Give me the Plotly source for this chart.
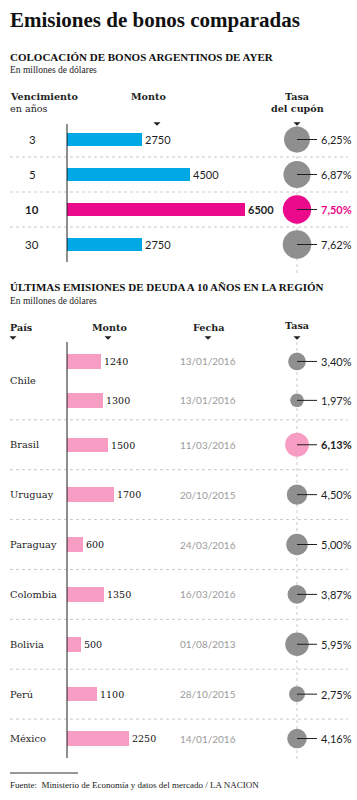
import plotly.graph_objects as go

W, H = 357, 800

# ---------------- DATA ----------------
title_text = "Emisiones de bonos comparadas"
sec1_title = "COLOCACIÓN DE BONOS ARGENTINOS DE AYER"
sec2_title = "ÚLTIMAS EMISIONES DE DEUDA A 10 AÑOS EN LA REGIÓN"
subtitle = "En millones de dólares"
source_text = "Fuente:  Ministerio de Economía y datos del mercado / LA NACION"

vencimientos = ["3", "5", "10", "30"]
montos_arg = [2750, 4500, 6500, 2750]
tasas_arg = [6.25, 6.87, 7.50, 7.62]
destacado_arg = "10"

paises = ["Chile", "Chile", "Brasil", "Uruguay", "Paraguay", "Colombia", "Bolivia", "Perú", "México"]
montos_reg = [1240, 1300, 1500, 1700, 600, 1350, 500, 1100, 2250]
fechas_reg = ["13/01/2016", "13/01/2016", "11/03/2016", "20/10/2015", "24/03/2016",
              "16/03/2016", "01/08/2013", "28/10/2015", "14/01/2016"]
tasas_reg = [3.40, 1.97, 6.13, 4.50, 5.00, 3.87, 5.95, 2.75, 4.16]
destacado_reg = "Brasil"

# ---------------- STYLE / LAYOUT CONSTANTS ----------------
BLUE = "#00a9e6"
MAGENTA = "#ec0a8c"
LPINK = "#f79cc2"
GRAY = "#8f8f8f"
DARK = "#1e1e1e"
DATEGRAY = "#9b9b9b"
SEP = "#c9c9c9"

SERIF_T = "Liberation Serif"
SLAB = "DejaVu Serif"
SANS = "Lato"

PX_PER_UNIT = 0.02736       # bar scale (px per million USD)
AXIS_X = 67                 # px position of the bar baseline
TASA_X = 297                # px column of rate bubbles
LABEL_X = 319               # px start of rate labels
SUB_ROW = 0.78              # height of a sub-row (multi-bond country)
LAST_ROW = 0.78             # last row is shorter


def fx(p):
    return p / W


def fy(p):
    return 1 - p / H


# section 1 row positions
pos_arg = list(range(len(vencimientos)))

# section 2 row positions (grouped by country)
pos_reg, blocks = [], []
cur, i, n = 0.0, 0, len(paises)
while i < n:
    j = i
    while j < n and paises[j] == paises[i]:
        j += 1
    cnt = j - i
    h = SUB_ROW * cnt if cnt > 1 else (LAST_ROW if j == n else 1.0)
    for k in range(cnt):
        pos_reg.append(cur + h * (k + 0.5) / cnt)
    blocks.append((paises[i], cur, cur + h))
    cur += h
    i = j
total_reg = cur

xrange_bars = [-AXIS_X / PX_PER_UNIT, (W - AXIS_X) / PX_PER_UNIT]

fig = go.Figure()

# ---------- Section 1 bars ----------
col1 = [MAGENTA if v == destacado_arg else BLUE for v in vencimientos]
txt1 = [f"<b>{m}</b>" if v == destacado_arg else f"{m}" for v, m in zip(vencimientos, montos_arg)]
fig.add_trace(go.Bar(
    x=montos_arg, y=pos_arg, orientation="h", width=0.38,
    marker=dict(color=col1, line_width=0),
    text=txt1, textposition="outside", constraintext="none", cliponaxis=False,
    textfont=dict(family=SANS, size=11, color=DARK),
    xaxis="x", yaxis="y", hoverinfo="skip"))

# ---------- Section 1 bubbles ----------
fig.add_trace(go.Scatter(
    x=[TASA_X] * len(tasas_arg), y=pos_arg, mode="markers",
    marker=dict(size=tasas_arg, sizemode="area", sizeref=2 / 10.35 ** 2, opacity=1,
                color=[MAGENTA if v == destacado_arg else GRAY for v in vencimientos],
                line_width=0),
    xaxis="x3", yaxis="y", cliponaxis=False, hoverinfo="skip"))

# ---------- Section 2 bars ----------
txt2 = [f"{m}" for m in montos_reg]
fig.add_trace(go.Bar(
    x=montos_reg, y=pos_reg, orientation="h", width=0.29,
    marker=dict(color=LPINK, line_width=0),
    text=txt2, textposition="outside", constraintext="none", cliponaxis=False,
    textfont=dict(family=SLAB, size=9.5, color="#111"),
    xaxis="x2", yaxis="y2", hoverinfo="skip"))

# ---------- Section 2 bubbles ----------
fig.add_trace(go.Scatter(
    x=[TASA_X] * len(tasas_reg), y=pos_reg, mode="markers",
    marker=dict(size=tasas_reg, sizemode="area", sizeref=2 / 9.6 ** 2, opacity=1,
                color=[LPINK if p == destacado_reg else GRAY for p in paises],
                line_width=0),
    xaxis="x4", yaxis="y2", cliponaxis=False, hoverinfo="skip"))

shapes, anns = [], []


def ann(text, x, y, xanchor="left", size=10, family=SLAB, color=DARK,
        xref="paper", yref="paper", yanchor="middle"):
    anns.append(dict(text=text, x=x, y=y, xref=xref, yref=yref, xanchor=xanchor,
                     yanchor=yanchor, showarrow=False,
                     font=dict(size=size, family=family, color=color)))


def tri(xp, yp):
    shapes.append(dict(type="path", xref="paper", yref="paper",
                       xsizemode="pixel", ysizemode="pixel",
                       xanchor=fx(xp), yanchor=fy(yp),
                       path="M -3.5,1.8 L 3.5,1.8 L 0,-1.8 Z",
                       fillcolor=DARK, line=dict(width=0)))


# ---------- Titles ----------
ann(f"<b>{title_text}</b>", fx(8), fy(20), size=21, family=SERIF_T, color="#111")
ann(f"<b>{sec1_title}</b>", fx(8), fy(57), size=11, family=SERIF_T, color="#111")
ann(subtitle, fx(8), fy(70), size=9.5, family=SERIF_T, color="#222")

# section 1 column headers
HS = 9.6
ann("<b>Vencimiento</b>", fx(8), fy(96), size=HS, family=SLAB)
ann("en años", fx(8), fy(108), size=HS, family=SLAB)
ann("<b>Monto</b>", fx(148), fy(96), xanchor="center", size=HS, family=SLAB)
ann("<b>Tasa</b>", fx(TASA_X), fy(96), xanchor="center", size=HS, family=SLAB)
ann("<b>del cupón</b>", fx(TASA_X), fy(108), xanchor="center", size=HS, family=SLAB)
tri(157, 124)
tri(TASA_X, 124)

# section 1 row labels, rate labels, connectors
for v, p, t in zip(vencimientos, pos_arg, tasas_arg):
    hl = v == destacado_arg
    ann(f"<b>{v}</b>" if hl else v, fx(32), p, xanchor="center", size=11.5,
        family=SANS, color=DARK, yref="y")
    lab = f"{t:.2f}%".replace(".", ",")
    ann(f"<b>{lab}</b>" if hl else lab, LABEL_X, p, size=11, family=SANS,
        color=MAGENTA if hl else DARK, xref="x3", yref="y")
    shapes.append(dict(type="line", xref="x3", yref="y", x0=TASA_X, x1=LABEL_X - 2,
                       y0=p, y1=p, line=dict(color=DARK, width=1)))

# section 1 separators
for k in range(len(pos_arg) - 1):
    yb = (pos_arg[k] + pos_arg[k + 1]) / 2
    shapes.append(dict(type="line", xref="paper", yref="y", x0=fx(10), x1=fx(348),
                       y0=yb, y1=yb, layer="below",
                       line=dict(color=SEP, width=1, dash="dot")))
# section 1 axis line
shapes.append(dict(type="line", xref="x", yref="y domain", x0=0, x1=0, y0=0, y1=0.985,
                   line=dict(color=DARK, width=1)))
# section 1 bubble guide
shapes.append(dict(type="line", xref="x3", yref="paper", x0=TASA_X, x1=TASA_X,
                   y0=fy(126), y1=fy(273), layer="below",
                   line=dict(color=SEP, width=1, dash="dot")))

# ---------- Section 2 ----------
ann(f"<b>{sec2_title}</b>", fx(8), fy(287), size=11, family=SERIF_T, color="#111")
ann(subtitle, fx(8), fy(301), size=9.5, family=SERIF_T, color="#222")
ann("<b>País</b>", fx(8), fy(328), size=HS, family=SLAB)
ann("<b>Monto</b>", fx(109), fy(328), xanchor="center", size=HS, family=SLAB)
ann("<b>Fecha</b>", fx(208), fy(328), xanchor="center", size=HS, family=SLAB)
ann("<b>Tasa</b>", fx(TASA_X), fy(325), xanchor="center", size=HS, family=SLAB)
for xp in (13, 108, 208, TASA_X):
    tri(xp, 338)

for name, y0, y1 in blocks:
    ann(name, fx(8), (y0 + y1) / 2, size=9.8, family=SLAB, yref="y2")

for p, pa, f, t in zip(pos_reg, paises, fechas_reg, tasas_reg):
    hl = pa == destacado_reg
    ann(f, 208, p, xanchor="center", size=10, family=SANS, color=DATEGRAY,
        xref="x4", yref="y2")
    lab = f"{t:.2f}%".replace(".", ",")
    ann(f"<b>{lab}</b>" if hl else lab, LABEL_X, p, size=11, family=SANS,
        color=DARK, xref="x4", yref="y2")
    shapes.append(dict(type="line", xref="x4", yref="y2", x0=TASA_X, x1=LABEL_X - 2,
                       y0=p, y1=p, line=dict(color=DARK, width=1)))

for name, y0, y1 in blocks[:-1]:
    shapes.append(dict(type="line", xref="paper", yref="y2", x0=fx(10), x1=fx(348),
                       y0=y1, y1=y1, layer="below",
                       line=dict(color=SEP, width=1, dash="dot")))
shapes.append(dict(type="line", xref="x2", yref="y2 domain", x0=0, x1=0, y0=0, y1=1,
                   line=dict(color=DARK, width=1)))
shapes.append(dict(type="line", xref="x4", yref="paper", x0=TASA_X, x1=TASA_X,
                   y0=fy(342), y1=fy(760), layer="below",
                   line=dict(color=SEP, width=1, dash="dot")))

# ---------- Footer ----------
shapes.append(dict(type="line", xref="paper", yref="paper", x0=fx(10), x1=fx(78),
                   y0=fy(773), y1=fy(773), line=dict(color="#333", width=1)))
ann(source_text, fx(8), fy(785), size=9, family=SERIF_T, color="#222")

hidden = dict(visible=False, fixedrange=True)
fig.update_layout(
    width=W, height=H, autosize=False,
    margin=dict(l=0, r=0, t=0, b=0, pad=0),
    paper_bgcolor="white", plot_bgcolor="rgba(0,0,0,0)",
    showlegend=False, bargap=0,
    xaxis=dict(domain=[0, 1], range=xrange_bars, anchor="y", **hidden),
    yaxis=dict(domain=[fy(262), fy(122)], range=[len(pos_arg) - 0.5, -0.5], anchor="x", **hidden),
    xaxis2=dict(domain=[0, 1], range=xrange_bars, anchor="y2", **hidden),
    yaxis2=dict(domain=[fy(758), fy(342)], range=[total_reg, 0], anchor="x2", **hidden),
    xaxis3=dict(overlaying="x", range=[0, W], anchor="y", **hidden),
    xaxis4=dict(overlaying="x2", range=[0, W], anchor="y2", **hidden),
    shapes=shapes, annotations=anns,
)

fig.write_html("out.html", config={"displayModeBar": False},
               post_script="document.body.style.margin='0px';")
